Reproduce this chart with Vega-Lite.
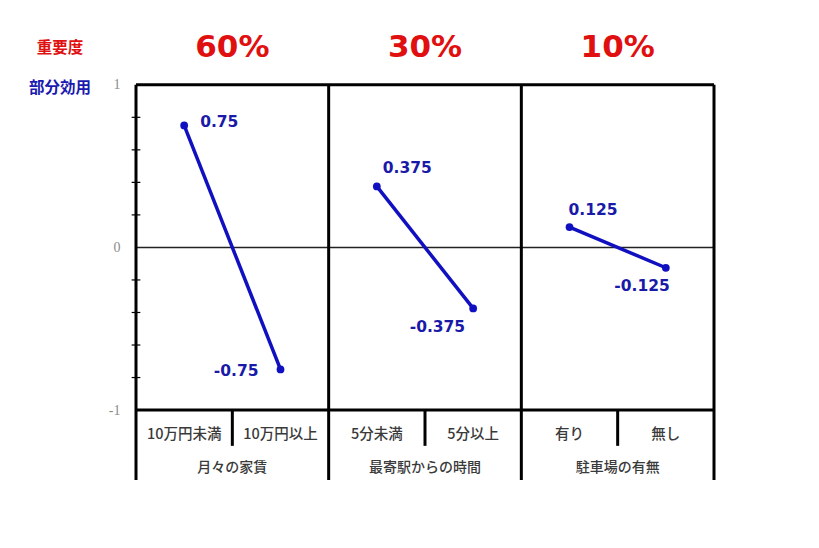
{
  "$schema": "https://vega.github.io/schema/vega-lite/v6.json",
  "autosize": {"type": "none"},
  "padding": {"left": 136, "top": 36, "right": 105, "bottom": 68},
  "width": 578,
  "height": 444,
  "background": "white",
  "config": {"view": {"stroke": null}},
  "datasets": {
    "pts": [
      {"group": "月々の家賃", "weight": "60%", "level": "10万円未満", "slot": 0.5, "value": 0.75},
      {"group": "月々の家賃", "weight": "60%", "level": "10万円以上", "slot": 1.5, "value": -0.75},
      {"group": "最寄駅からの時間", "weight": "30%", "level": "5分未満", "slot": 2.5, "value": 0.375},
      {"group": "最寄駅からの時間", "weight": "30%", "level": "5分以上", "slot": 3.5, "value": -0.375},
      {"group": "駐車場の有無", "weight": "10%", "level": "有り", "slot": 4.5, "value": 0.125},
      {"group": "駐車場の有無", "weight": "10%", "level": "無し", "slot": 5.5, "value": -0.125}
    ],
    "hlines": [{"y": 1}, {"y": -1}],
    "vbig": [{"x": 0}, {"x": 2}, {"x": 4}, {"x": 6}],
    "vsmall": [{"x": 1}, {"x": 3}, {"x": 5}],
    "minor": [{"y": 0.8}, {"y": 0.6}, {"y": 0.4}, {"y": 0.2}, {"y": -0.2}, {"y": -0.4}, {"y": -0.6}, {"y": -0.8}]
  },
  "layer": [
    {
      "data": {"values": [{}]},
      "mark": {"type": "rule", "color": "#222222", "strokeWidth": 1.5},
      "encoding": {
        "x": {"datum": 0, "type": "quantitative", "scale": {"domain": [0, 6], "nice": false, "zero": false}, "axis": null},
        "x2": {"datum": 6},
        "y": {"datum": 0, "type": "quantitative", "scale": {"domain": [-1.43, 1.3], "nice": false, "zero": false},
              "axis": {"values": [1, 0, -1], "labelExpr": "datum.value", "domain": false, "ticks": false, "grid": false, "title": null,
                       "labelColor": "#8c8c8c", "labelFontSize": 14, "labelFont": "Liberation Serif", "labelPadding": 16}}
      }
    },
    {
      "data": {"name": "hlines"},
      "mark": {"type": "rule", "color": "black", "strokeWidth": 3},
      "encoding": {
        "x": {"datum": 0, "type": "quantitative"},
        "x2": {"datum": 6},
        "y": {"field": "y", "type": "quantitative"}
      }
    },
    {
      "data": {"name": "vbig"},
      "mark": {"type": "rule", "color": "black", "strokeWidth": 3},
      "encoding": {
        "x": {"field": "x", "type": "quantitative"},
        "y": {"datum": 1, "type": "quantitative"},
        "y2": {"datum": -1.43}
      }
    },
    {
      "data": {"name": "vsmall"},
      "mark": {"type": "rule", "color": "black", "strokeWidth": 3},
      "encoding": {
        "x": {"field": "x", "type": "quantitative"},
        "y": {"datum": -1, "type": "quantitative"},
        "y2": {"datum": -1.22}
      }
    },
    {
      "data": {"name": "minor"},
      "mark": {"type": "rule", "color": "black", "strokeWidth": 1.2},
      "encoding": {
        "x": {"datum": -0.045, "type": "quantitative"},
        "x2": {"datum": 0.045},
        "y": {"field": "y", "type": "quantitative"}
      }
    },
    {
      "data": {"name": "pts"},
      "mark": {"type": "line", "color": "#1010c0", "strokeWidth": 3.5},
      "encoding": {
        "x": {"field": "slot", "type": "quantitative"},
        "y": {"field": "value", "type": "quantitative"},
        "detail": {"field": "group"}
      }
    },
    {
      "data": {"name": "pts"},
      "mark": {"type": "point", "filled": true, "color": "#1010c0", "size": 60, "opacity": 1},
      "encoding": {
        "x": {"field": "slot", "type": "quantitative"},
        "y": {"field": "value", "type": "quantitative"}
      }
    },
    {
      "data": {"name": "pts"},
      "transform": [{"filter": "datum.level === '10万円未満'"}],
      "mark": {"type": "text", "align": "left", "baseline": "middle", "dx": 16, "dy": -3, "font": "DejaVu Sans", "fontWeight": "bold", "fontSize": 15.5, "color": "#1a1aa8"},
      "encoding": {"x": {"field": "slot", "type": "quantitative"}, "y": {"field": "value", "type": "quantitative"}, "text": {"field": "value"}}
    },
    {
      "data": {"name": "pts"},
      "transform": [{"filter": "datum.level === '10万円以上'"}],
      "mark": {"type": "text", "align": "right", "baseline": "middle", "dx": -22, "dy": 2, "font": "DejaVu Sans", "fontWeight": "bold", "fontSize": 15.5, "color": "#1a1aa8"},
      "encoding": {"x": {"field": "slot", "type": "quantitative"}, "y": {"field": "value", "type": "quantitative"}, "text": {"field": "value"}}
    },
    {
      "data": {"name": "pts"},
      "transform": [{"filter": "datum.level === '5分未満'"}],
      "mark": {"type": "text", "align": "left", "baseline": "middle", "dx": 6, "dy": -18, "font": "DejaVu Sans", "fontWeight": "bold", "fontSize": 15.5, "color": "#1a1aa8"},
      "encoding": {"x": {"field": "slot", "type": "quantitative"}, "y": {"field": "value", "type": "quantitative"}, "text": {"field": "value"}}
    },
    {
      "data": {"name": "pts"},
      "transform": [{"filter": "datum.level === '5分以上'"}],
      "mark": {"type": "text", "align": "right", "baseline": "middle", "dx": -8, "dy": 19, "font": "DejaVu Sans", "fontWeight": "bold", "fontSize": 15.5, "color": "#1a1aa8"},
      "encoding": {"x": {"field": "slot", "type": "quantitative"}, "y": {"field": "value", "type": "quantitative"}, "text": {"field": "value"}}
    },
    {
      "data": {"name": "pts"},
      "transform": [{"filter": "datum.level === '有り'"}],
      "mark": {"type": "text", "align": "left", "baseline": "middle", "dx": -1, "dy": -17, "font": "DejaVu Sans", "fontWeight": "bold", "fontSize": 15.5, "color": "#1a1aa8"},
      "encoding": {"x": {"field": "slot", "type": "quantitative"}, "y": {"field": "value", "type": "quantitative"}, "text": {"field": "value"}}
    },
    {
      "data": {"name": "pts"},
      "transform": [{"filter": "datum.level === '無し'"}],
      "mark": {"type": "text", "align": "right", "baseline": "middle", "dx": 4, "dy": 18, "font": "DejaVu Sans", "fontWeight": "bold", "fontSize": 15.5, "color": "#1a1aa8"},
      "encoding": {"x": {"field": "slot", "type": "quantitative"}, "y": {"field": "value", "type": "quantitative"}, "text": {"field": "value"}}
    },
    {
      "data": {"name": "pts"},
      "mark": {"type": "text", "baseline": "middle", "font": "Noto Sans CJK JP", "fontSize": 14.5, "fontWeight": 500, "color": "#3a3a3a"},
      "encoding": {"x": {"field": "slot", "type": "quantitative"}, "y": {"datum": -1.154, "type": "quantitative"}, "text": {"field": "level"}}
    },
    {
      "data": {"name": "pts"},
      "transform": [{"aggregate": [{"op": "mean", "field": "slot", "as": "c"}], "groupby": ["group", "weight"]}],
      "mark": {"type": "text", "baseline": "middle", "font": "Noto Sans CJK JP", "fontSize": 14, "fontWeight": 500, "color": "#3a3a3a"},
      "encoding": {"x": {"field": "c", "type": "quantitative"}, "y": {"datum": -1.357, "type": "quantitative"}, "text": {"field": "group"}}
    },
    {
      "data": {"name": "pts"},
      "transform": [{"aggregate": [{"op": "mean", "field": "slot", "as": "c"}], "groupby": ["group", "weight"]}],
      "mark": {"type": "text", "baseline": "middle", "font": "DejaVu Sans", "fontWeight": "bold", "fontSize": 31, "color": "#e01010"},
      "encoding": {"x": {"field": "c", "type": "quantitative"}, "y": {"datum": 1.226, "type": "quantitative"}, "text": {"field": "weight"}}
    },
    {
      "data": {"values": [{}]},
      "mark": {"type": "text", "baseline": "middle", "font": "Noto Sans CJK JP", "fontWeight": "bold", "fontSize": 15.5, "color": "#e01010"},
      "encoding": {"x": {"datum": -0.789, "type": "quantitative"}, "y": {"datum": 1.226, "type": "quantitative"}, "text": {"value": "重要度"}}
    },
    {
      "data": {"values": [{}]},
      "mark": {"type": "text", "baseline": "middle", "font": "Noto Sans CJK JP", "fontWeight": "bold", "fontSize": 15.5, "color": "#1a1ab0"},
      "encoding": {"x": {"datum": -0.789, "type": "quantitative"}, "y": {"datum": 0.98, "type": "quantitative"}, "text": {"value": "部分効用"}}
    }
  ]
}
